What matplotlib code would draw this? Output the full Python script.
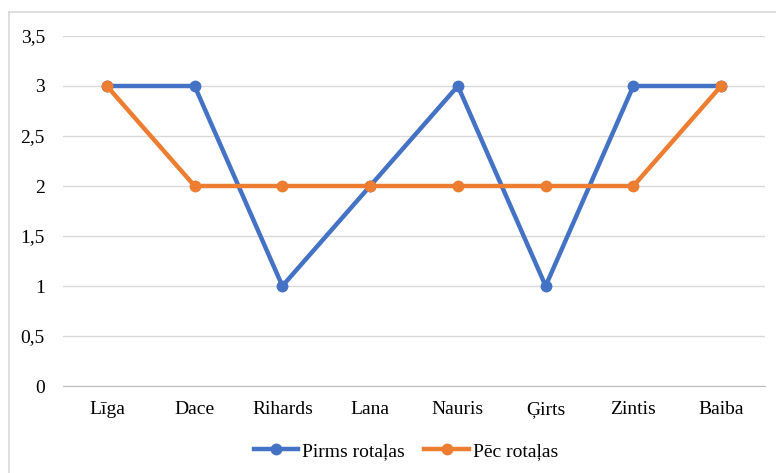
import matplotlib.pyplot as plt
from matplotlib.lines import Line2D

plt.rcParams['font.family'] = ['Liberation Serif', 'DejaVu Serif']

names = ['Līga', 'Dace', 'Rihards', 'Lana', 'Nauris', 'Ģirts', 'Zintis', 'Baiba']
pirms = [3, 3, 1, 2, 3, 1, 3, 3]
pec = [3, 2, 2, 2, 2, 2, 2, 3]
yticks = [0, 0.5, 1, 1.5, 2, 2.5, 3, 3.5]
ylabels = ['0', '0,5', '1', '1,5', '2', '2,5', '3', '3,5']

blue = '#4472C4'
orange = '#ED7D31'

W, H = 776, 473
fig = plt.figure(figsize=(W/100, H/100), dpi=100)
ax = fig.add_axes([63/W, 1-386/H, 702/W, 350/H])

# chart border (only top and left edges are inside the picture)
fig.lines.append(Line2D([8.5/W, 1], [1-12.5/H, 1-12.5/H], transform=fig.transFigure,
                        color='#D9D9D9', lw=1.2))
fig.lines.append(Line2D([8.5/W, 8.5/W], [0, 1-12.5/H], transform=fig.transFigure,
                        color='#D9D9D9', lw=1.2))

x = list(range(len(names)))
ax.plot(x, pirms, color=blue, lw=3.2, marker='o', ms=7.5, label='Pirms rotaļas',
        solid_joinstyle='round', zorder=3)
ax.plot(x, pec, color=orange, lw=3.2, marker='o', ms=7.5, label='Pēc rotaļas',
        solid_joinstyle='round', zorder=4)

ax.set_xlim(-0.5, len(names) - 0.5)
ax.set_ylim(0, 3.5)
ax.set_yticks(yticks)
ax.set_yticklabels(ylabels)
ax.set_xticks(x)
ax.set_xticklabels(names)
ax.grid(axis='y', color='#D9D9D9', lw=1)
ax.set_axisbelow(True)
for s in ['top', 'right', 'left']:
    ax.spines[s].set_visible(False)
ax.spines['bottom'].set_color('#BFBFBF')
ax.tick_params(axis='both', length=0, labelsize=14, colors='#000000')
ax.tick_params(axis='y', pad=13)
ax.tick_params(axis='x', pad=11)

fig.legend(loc='center', bbox_to_anchor=(406/W, 1-451/H), ncol=2, frameon=False,
           fontsize=14, handlelength=2.3, columnspacing=1.0, handletextpad=0.2)

fig.savefig('out.png', dpi=100)
